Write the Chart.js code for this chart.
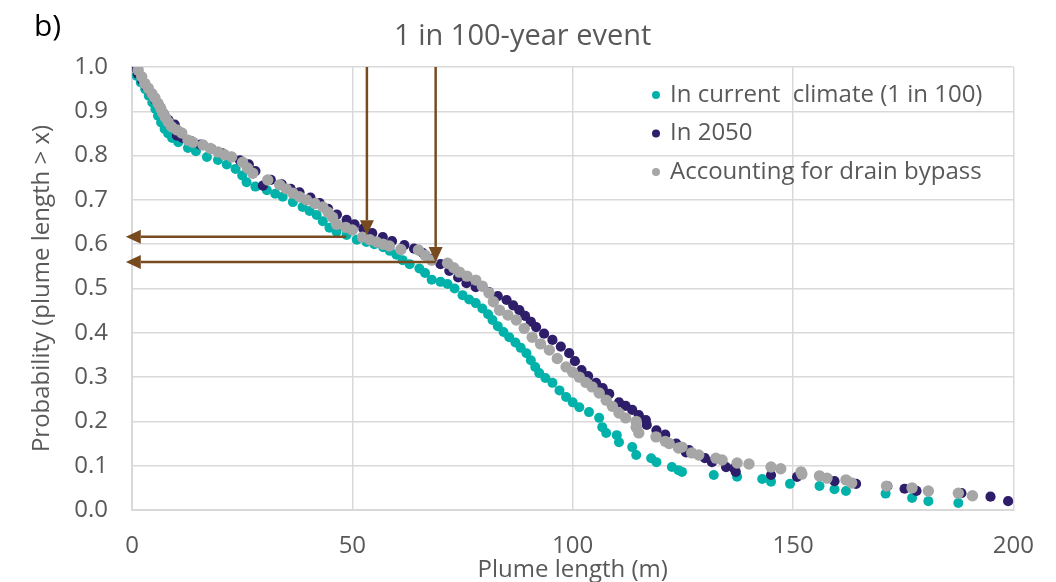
<!DOCTYPE html>
<html>
<head>
<meta charset="utf-8">
<style>
  html, body { margin: 0; padding: 0; background: #fff; }
  #wrap { width: 1056px; height: 582px; position: relative; }
</style>
</head>
<body>
<div id="wrap"><canvas id="plumeChart"></canvas></div>
<script src="https://cdn.jsdelivr.net/npm/chart.js"></script>
<script>
// series labels and colours
const seriesNames = ['In current  climate (1 in 100)', 'In 2050', 'Accounting for drain bypass'];
const seriesColours = ['#00b2a9', '#2e1e69', '#a6a6a6'];

// [plume length (m), probability]
const currentClimate = [
  [0.5, 1.00], [1.1, 0.98], [2.0, 0.965], [3.0, 0.95], [3.8, 0.935], [4.6, 0.92], [5.3, 0.905],
  [5.9, 0.89], [6.6, 0.875], [7.4, 0.86], [8.2, 0.85], [9.1, 0.84], [10.5, 0.83], [12.7, 0.817],
  [14.5, 0.81], [17.0, 0.797], [19.5, 0.79], [21.5, 0.78], [23.5, 0.77], [25.0, 0.755], [26.0, 0.74],
  [28.0, 0.73], [30.6, 0.722], [32.5, 0.714], [34.2, 0.707], [36.5, 0.695], [38.7, 0.684], [40.3, 0.675],
  [41.9, 0.666], [43.3, 0.652], [44.8, 0.637], [46.4, 0.628], [48.7, 0.621], [51.0, 0.61], [53.2, 0.605],
  [55.0, 0.60], [57.0, 0.593], [58.5, 0.585], [60.0, 0.576], [61.4, 0.564], [63.0, 0.555], [65.2, 0.545],
  [66.5, 0.535], [68.0, 0.52], [70.0, 0.515], [71.6, 0.51], [73.2, 0.50], [75.0, 0.485], [76.5, 0.475],
  [78.0, 0.467], [79.5, 0.455], [80.8, 0.442], [81.8, 0.429], [83.0, 0.415], [84.3, 0.402], [85.6, 0.39],
  [87.0, 0.378], [88.2, 0.366], [89.5, 0.354], [90.5, 0.338], [91.5, 0.323], [92.4, 0.309], [93.8, 0.298],
  [95.4, 0.287], [97.0, 0.27], [98.5, 0.255], [100.0, 0.243], [101.5, 0.232], [103.7, 0.221], [106.0, 0.208],
  [106.7, 0.187], [107.6, 0.174], [110.0, 0.169], [110.5, 0.153], [113.5, 0.142], [114.4, 0.124],
  [117.8, 0.117], [119.0, 0.108], [122.5, 0.097], [124.0, 0.09], [124.8, 0.086], [132.0, 0.079],
  [137.3, 0.075], [143.0, 0.07], [145.0, 0.064], [149.3, 0.059], [156.0, 0.054], [159.4, 0.047],
  [162.0, 0.043], [171.0, 0.037], [177.0, 0.027], [180.7, 0.02], [187.5, 0.016]
];

const in2050 = [
  [0.5, 1.00], [1.3, 0.985], [2.3, 0.97], [3.3, 0.955], [4.3, 0.94], [5.3, 0.925], [6.3, 0.91],
  [7.2, 0.895], [8.3, 0.88], [9.7, 0.87], [10.2, 0.845], [11.5, 0.84], [13.5, 0.832], [15.5, 0.825],
  [18.0, 0.815], [20.5, 0.805], [22.5, 0.797], [24.5, 0.789], [26.5, 0.78], [28.0, 0.765], [29.7, 0.732],
  [31.5, 0.745], [34.0, 0.735], [36.0, 0.725], [38.0, 0.717], [40.5, 0.705], [42.6, 0.693], [44.5, 0.68],
  [46.5, 0.667], [48.7, 0.655], [50.5, 0.645], [52.5, 0.635], [54.5, 0.625], [56.9, 0.616], [59.0, 0.607],
  [61.8, 0.598], [64.0, 0.59], [66.0, 0.58], [68.0, 0.567], [70.0, 0.555], [72.0, 0.54], [74.0, 0.525],
  [75.9, 0.512], [78.0, 0.503], [81.0, 0.492], [83.0, 0.483], [85.0, 0.474], [86.5, 0.462], [87.9, 0.451],
  [89.2, 0.438], [90.5, 0.425], [91.7, 0.413], [93.5, 0.398], [95.4, 0.384], [97.3, 0.369], [99.2, 0.354],
  [100.5, 0.336], [102.0, 0.316], [103.5, 0.302], [105.3, 0.287], [106.8, 0.275], [108.3, 0.262],
  [110.5, 0.243], [112.0, 0.235], [113.5, 0.226], [115.0, 0.214], [116.6, 0.203], [116.8, 0.192],
  [119.0, 0.18], [121.0, 0.17], [123.5, 0.15], [125.7, 0.13], [126.4, 0.135], [130.0, 0.117],
  [131.6, 0.108], [134.8, 0.097], [136.6, 0.094], [137.0, 0.086], [145.0, 0.079], [150.9, 0.075],
  [159.4, 0.065], [164.3, 0.059], [171.4, 0.054], [175.3, 0.048], [178.0, 0.043], [188.2, 0.038],
  [194.8, 0.03], [198.8, 0.02]
];

const drainBypass = [
  [1.4, 0.993], [2.2, 0.978], [2.9, 0.963], [3.7, 0.952], [4.5, 0.94], [5.2, 0.93], [5.9, 0.918],
  [6.5, 0.907], [7.0, 0.896], [7.6, 0.886], [8.2, 0.876], [9.0, 0.865], [10.2, 0.858], [11.3, 0.851],
  [12.7, 0.835], [13.8, 0.83], [16.1, 0.824], [17.8, 0.816], [19.5, 0.808], [21.0, 0.802], [22.6, 0.797],
  [25.1, 0.785], [26.2, 0.772], [27.4, 0.76], [30.8, 0.745], [33.5, 0.734], [35.0, 0.725], [36.5, 0.715],
  [38.0, 0.707], [39.6, 0.70], [41.5, 0.692], [43.3, 0.684], [44.5, 0.672], [45.5, 0.661], [46.4, 0.645],
  [48.5, 0.638], [50.0, 0.632], [52.3, 0.616], [54.0, 0.61], [55.5, 0.605], [57.0, 0.60], [58.4, 0.596],
  [61.0, 0.588], [65.0, 0.587], [66.5, 0.575], [68.0, 0.564], [71.6, 0.557], [73.0, 0.547], [74.3, 0.537],
  [76.0, 0.528], [78.0, 0.519], [79.5, 0.505], [81.0, 0.49], [82.0, 0.47], [83.4, 0.451], [85.3, 0.44],
  [87.2, 0.429], [89.0, 0.41], [90.8, 0.39], [92.7, 0.375], [94.7, 0.361], [96.5, 0.342], [98.5, 0.323],
  [100.0, 0.311], [101.5, 0.30], [103.0, 0.288], [104.4, 0.278], [106.0, 0.264], [107.6, 0.248],
  [109.0, 0.234], [110.5, 0.219], [112.0, 0.208], [114.4, 0.20], [114.4, 0.187], [115.0, 0.174],
  [118.9, 0.165], [121.0, 0.155], [121.9, 0.15], [124.0, 0.14], [124.8, 0.142], [127.0, 0.129],
  [128.6, 0.124], [132.5, 0.117], [133.9, 0.113], [137.3, 0.106], [140.0, 0.104], [145.0, 0.097],
  [147.2, 0.093], [151.8, 0.086], [152.0, 0.081], [156.0, 0.077], [157.7, 0.072], [162.0, 0.068],
  [163.3, 0.061], [171.2, 0.054], [177.0, 0.05], [180.7, 0.043], [187.5, 0.038], [190.7, 0.032]
];

// arrows: [x, yFrom, yTo] going down, [y, xFrom, xTo] going left
const arrowsDown = [[53.3, 1.0, 0.62], [68.9, 1.0, 0.56]];
const arrowsLeft = [[0.617, 48.6, -1.4], [0.56, 68.9, -1.4]];

const xRange = [0, 200, 50];
const yRange = [0, 1, 0.1];

const textGrey = '#595959';
const gridGrey = '#d9d9d9';
const arrowBrown = '#774b1f';
const baseFont = 'Open Sans';

function toPoints(pairs) {
    return pairs.map(p => ({ x: p[0], y: p[1] }));
}

function drawArrow(ctx, x1, y1, x2, y2) {
    const ang = Math.atan2(y2 - y1, x2 - x1);
    const headLen = 15, headHalf = 7;
    const bx = x2 - Math.cos(ang) * headLen;
    const by = y2 - Math.sin(ang) * headLen;
    ctx.beginPath();
    ctx.moveTo(x1, y1);
    ctx.lineTo(bx, by);
    ctx.stroke();
    ctx.beginPath();
    ctx.moveTo(x2, y2);
    ctx.lineTo(bx - Math.sin(ang) * headHalf, by + Math.cos(ang) * headHalf);
    ctx.lineTo(bx + Math.sin(ang) * headHalf, by - Math.cos(ang) * headHalf);
    ctx.closePath();
    ctx.fill();
}

const arrowPlugin = {
    id: 'arrowPlugin',
    afterDatasetsDraw(chart) {
        const {ctx, scales: {x, y}} = chart;
        ctx.save();
        ctx.strokeStyle = arrowBrown;
        ctx.fillStyle = arrowBrown;
        ctx.lineWidth = 2.5;
        arrowsDown.forEach(a => {
            drawArrow(ctx, x.getPixelForValue(a[0]), y.getPixelForValue(a[1]),
                x.getPixelForValue(a[0]), y.getPixelForValue(a[2]));
        });
        arrowsLeft.forEach(a => {
            drawArrow(ctx, x.getPixelForValue(a[1]), y.getPixelForValue(a[0]),
                x.getPixelForValue(a[2]), y.getPixelForValue(a[0]));
        });
        ctx.restore();
    }
};

const textPlugin = {
    id: 'textPlugin',
    afterDraw(chart) {
        const {ctx, chartArea} = chart;
        ctx.save();
        // panel letter and title
        ctx.fillStyle = '#000';
        ctx.font = '30px "' + baseFont + '"';
        ctx.textBaseline = 'middle';
        ctx.textAlign = 'left';
        ctx.fillText('b)', 34, 27);
        ctx.fillStyle = textGrey;
        ctx.font = '29px "' + baseFont + '"';
        ctx.textAlign = 'center';
        ctx.fillText('1 in 100-year event', (chartArea.left + chartArea.right) / 2 - 50, 37);
        // legend
        ctx.font = '24px "' + baseFont + '"';
        ctx.textAlign = 'left';
        seriesNames.forEach((name, i) => {
            const yy = 95 + i * 38.5;
            ctx.fillStyle = seriesColours[i];
            ctx.beginPath();
            ctx.arc(656, yy, 4, 0, Math.PI * 2);
            ctx.fill();
            ctx.fillStyle = textGrey;
            ctx.fillText(name, 670, yy);
        });
        ctx.restore();
    }
};

new Chart(document.getElementById('plumeChart'), {
    type: 'scatter',
    data: {
        datasets: [
            { label: seriesNames[0], data: toPoints(currentClimate), backgroundColor: seriesColours[0],
              borderColor: seriesColours[0], borderWidth: 0, pointRadius: 5, order: 3 },
            { label: seriesNames[1], data: toPoints(in2050), backgroundColor: seriesColours[1],
              borderColor: seriesColours[1], borderWidth: 0, pointRadius: 5.1, order: 2 },
            { label: seriesNames[2], data: toPoints(drainBypass), backgroundColor: seriesColours[2],
              borderColor: seriesColours[2], borderWidth: 0, pointRadius: 5.7, order: 1 }
        ]
    },
    options: {
        responsive: true,
        maintainAspectRatio: false,
        animation: false,
        events: [],
        layout: { padding: { top: 67, right: 41, left: 0, bottom: 0 } },
        plugins: { legend: { display: false }, title: { display: false }, tooltip: { enabled: false } },
        scales: {
            x: {
                type: 'linear',
                min: xRange[0], max: xRange[1],
                afterFit: s => { s.height = 72; },
                ticks: { stepSize: xRange[2], color: textGrey, padding: 22,
                         font: { family: baseFont, size: 24 } },
                grid: { color: gridGrey, lineWidth: 1.5, drawTicks: false },
                border: { color: gridGrey, width: 2 },
                title: { display: true, text: 'Plume length (m)', color: textGrey,
                         font: { family: baseFont, size: 24 }, padding: { top: 0, bottom: -3 } }
            },
            y: {
                type: 'linear',
                min: yRange[0], max: yRange[1],
                afterFit: s => { s.width = 132; },
                ticks: { stepSize: yRange[2], color: textGrey, padding: 24,
                         font: { family: baseFont, size: 24 },
                         callback: v => v.toFixed(1) },
                grid: { color: gridGrey, lineWidth: 1.5, drawTicks: false },
                border: { color: gridGrey, width: 2 },
                title: { display: true, text: 'Probability (plume length > x)', color: textGrey,
                         font: { family: baseFont, size: 24 }, padding: { top: 28, bottom: 0 } }
            }
        }
    },
    plugins: [arrowPlugin, textPlugin]
});
</script>
</body>
</html>
